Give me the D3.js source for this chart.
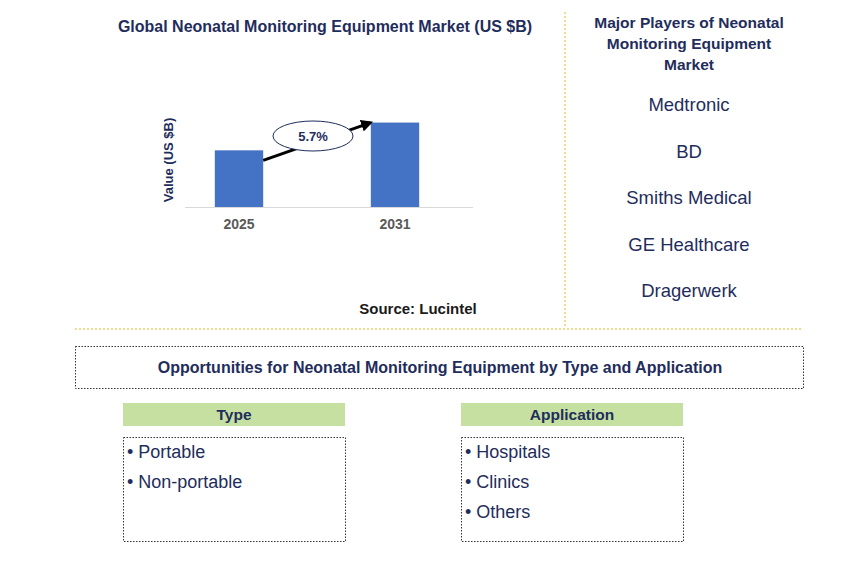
<!DOCTYPE html>
<html><head><meta charset="utf-8">
<script src="https://cdn.jsdelivr.net/npm/d3@7"></script>
<style>body{margin:0;background:#fff}text{font-family:Arial,"Liberation Sans",sans-serif}</style>
</head><body><svg id="c" width="868" height="562"></svg>
<script>
var years = ["2025", "2031"];
var values = [1.0, 1.49];
var cagr = "5.7%";
var players = ["Medtronic", "BD", "Smiths Medical", "GE Healthcare", "Dragerwerk"];
var types = ["Portable", "Non-portable"];
var apps = ["Hospitals", "Clinics", "Others"];

var svg = d3.select("#c");
var navy = "#1f2d5c";

svg.append("text").attr("x", 325).attr("y", 32).attr("text-anchor", "middle")
  .attr("font-size", 16).attr("font-weight", "bold").attr("fill", navy)
  .text("Global Neonatal Monitoring Equipment Market (US $B)");

var x = d3.scaleBand().domain(years).range([161, 473]).paddingInner(0.69).paddingOuter(0.345);
var y = d3.scaleLinear().domain([0, 1.5]).range([207, 122]);

svg.selectAll("rect.bar").data(values).enter().append("rect")
  .attr("x", function(d, i) { return x(years[i]); })
  .attr("y", function(d) { return y(d); })
  .attr("width", x.bandwidth())
  .attr("height", function(d) { return y(0) - y(d); })
  .attr("fill", "#4472c4");

svg.append("line").attr("x1", 185).attr("x2", 473).attr("y1", 207.5).attr("y2", 207.5)
  .attr("stroke", "#d9d9d9");

svg.selectAll("text.yr").data(years).enter().append("text")
  .attr("x", function(d) { return x(d) + x.bandwidth() / 2; }).attr("y", 229)
  .attr("text-anchor", "middle").attr("font-size", 14).attr("font-weight", "bold").attr("fill", "#595959")
  .text(function(d) { return d; });

svg.append("text").attr("transform", "translate(173,160) rotate(-90)").attr("text-anchor", "middle")
  .attr("font-size", 13).attr("font-weight", "bold").attr("fill", navy).text("Value (US $B)");

svg.append("defs").append("marker").attr("id", "ah").attr("viewBox", "0 0 10 10")
  .attr("refX", 8).attr("refY", 5).attr("markerWidth", 4).attr("markerHeight", 4).attr("orient", "auto")
  .append("path").attr("d", "M0,0L10,5L0,10z").attr("fill", "#000");
var x1 = x(years[0]) + x.bandwidth(), y1 = y(values[0]) + 10;
var x2 = x(years[1]), y2 = y(values[1]);
svg.append("line").attr("x1", x1).attr("y1", y1).attr("x2", x2).attr("y2", y2)
  .attr("stroke", "#000").attr("stroke-width", 3).attr("marker-end", "url(#ah)");
svg.append("ellipse").attr("cx", 313).attr("cy", 136).attr("rx", 40).attr("ry", 15)
  .attr("fill", "#fff").attr("stroke", navy);
svg.append("text").attr("x", 313).attr("y", 141).attr("text-anchor", "middle")
  .attr("font-size", 13).attr("font-weight", "bold").attr("fill", navy).text(cagr);

svg.append("text").attr("x", 418).attr("y", 314).attr("text-anchor", "middle")
  .attr("font-size", 15).attr("font-weight", "bold").attr("fill", "#1a1a1a").text("Source: Lucintel");

var gold = "#e6b820";
svg.append("line").attr("x1", 565).attr("x2", 565).attr("y1", 12).attr("y2", 326)
  .attr("stroke", gold).attr("stroke-dasharray", "2,2");
svg.append("line").attr("x1", 75).attr("x2", 803).attr("y1", 329).attr("y2", 329)
  .attr("stroke", gold).attr("stroke-dasharray", "2,2");

["Major Players of Neonatal", "Monitoring Equipment", "Market"].forEach(function(t, i) {
  svg.append("text").attr("x", 689).attr("y", 28 + i * 21).attr("text-anchor", "middle")
    .attr("font-size", 15.5).attr("font-weight", "bold").attr("fill", navy).text(t);
});
svg.selectAll("text.pl").data(players).enter().append("text")
  .attr("x", 689).attr("y", function(d, i) { return 111 + i * 46.5; })
  .attr("text-anchor", "middle").attr("font-size", 18.5).attr("fill", navy).text(function(d) { return d; });

svg.append("rect").attr("x", 75.5).attr("y", 346.5).attr("width", 728).attr("height", 42)
  .attr("fill", "none").attr("stroke", "#333").attr("stroke-dasharray", "1.5,1.5");
svg.append("text").attr("x", 440).attr("y", 373).attr("text-anchor", "middle")
  .attr("font-size", 16).attr("font-weight", "bold").attr("fill", navy)
  .text("Opportunities for Neonatal Monitoring Equipment by Type and Application");

function panel(x0, title, items) {
  svg.append("rect").attr("x", x0).attr("y", 403).attr("width", 222).attr("height", 23).attr("fill", "#c5e0a0");
  svg.append("text").attr("x", x0 + 111).attr("y", 420).attr("text-anchor", "middle")
    .attr("font-size", 15.5).attr("font-weight", "bold").attr("fill", navy).text(title);
  svg.append("rect").attr("x", x0 + 0.5).attr("y", 437.5).attr("width", 222).attr("height", 104)
    .attr("fill", "none").attr("stroke", "#333").attr("stroke-dasharray", "1.5,1.5");
  svg.selectAll(null).data(items).enter().append("text")
    .attr("x", x0 + 4).attr("y", function(d, i) { return 458 + i * 30; })
    .attr("font-size", 18).attr("fill", navy).text(function(d) { return "\u2022 " + d; });
}
panel(123, "Type", types);
panel(461, "Application", apps);
</script></body></html>
